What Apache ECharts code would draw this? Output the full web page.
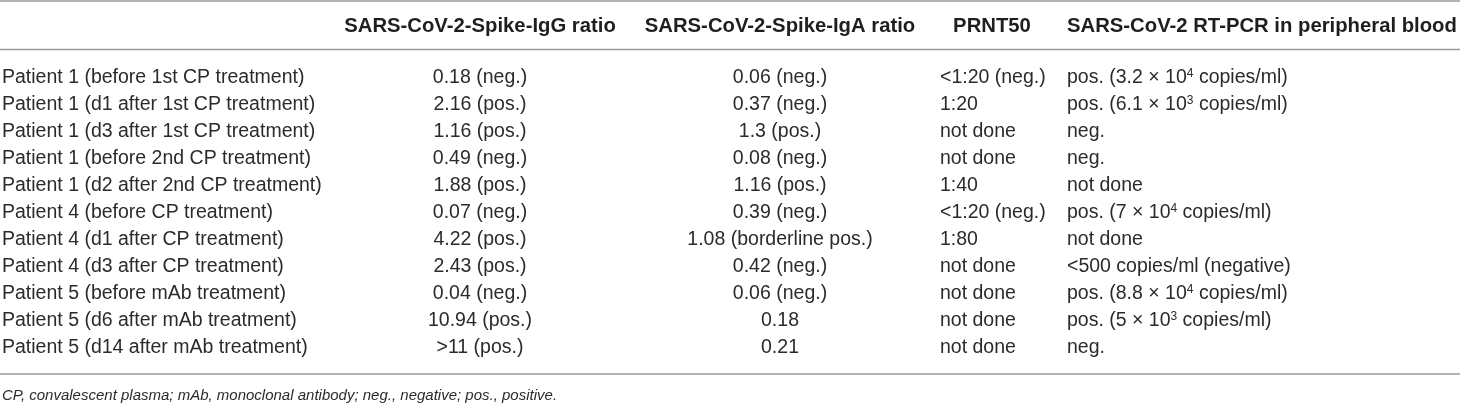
<!DOCTYPE html>
<html>
<head>
<meta charset="utf-8">
<script src="https://cdn.jsdelivr.net/npm/echarts@6/dist/echarts.min.js"></script>
<style>
  html, body { margin: 0; padding: 0; background: #fff; }
  #main { width: 1460px; height: 405px; }
</style>
</head>
<body>
<div id="main"></div>
<script>
// table content
var rowLabels = [
  'Patient 1 (before 1st CP treatment)',
  'Patient 1 (d1 after 1st CP treatment)',
  'Patient 1 (d3 after 1st CP treatment)',
  'Patient 1 (before 2nd CP treatment)',
  'Patient 1 (d2 after 2nd CP treatment)',
  'Patient 4 (before CP treatment)',
  'Patient 4 (d1 after CP treatment)',
  'Patient 4 (d3 after CP treatment)',
  'Patient 5 (before mAb treatment)',
  'Patient 5 (d6 after mAb treatment)',
  'Patient 5 (d14 after mAb treatment)'
];
var headers = [
  'SARS-CoV-2-Spike-IgG ratio',
  'SARS-CoV-2-Spike-IgA ratio',
  'PRNT50',
  'SARS-CoV-2 RT-PCR in peripheral blood'
];
var iggRatio = ['0.18 (neg.)', '2.16 (pos.)', '1.16 (pos.)', '0.49 (neg.)', '1.88 (pos.)', '0.07 (neg.)',
  '4.22 (pos.)', '2.43 (pos.)', '0.04 (neg.)', '10.94 (pos.)', '>11 (pos.)'];
var igaRatio = ['0.06 (neg.)', '0.37 (neg.)', '1.3 (pos.)', '0.08 (neg.)', '1.16 (pos.)', '0.39 (neg.)',
  '1.08 (borderline pos.)', '0.42 (neg.)', '0.06 (neg.)', '0.18', '0.21'];
var prnt50 = ['<1:20 (neg.)', '1:20', 'not done', 'not done', '1:40', '<1:20 (neg.)',
  '1:80', 'not done', 'not done', 'not done', 'not done'];
var rtPcr = ['pos. (3.2 × 10^4 copies/ml)', 'pos. (6.1 × 10^3 copies/ml)', 'neg.', 'neg.', 'not done',
  'pos. (7 × 10^4 copies/ml)', 'not done', '<500 copies/ml (negative)', 'pos. (8.8 × 10^4 copies/ml)',
  'pos. (5 × 10^3 copies/ml)', 'neg.'];
var footnote = 'CP, convalescent plasma; mAb, monoclonal antibody; neg., negative; pos., positive.';

var columns = [iggRatio, igaRatio, prnt50, rtPcr];

// layout
var W = 1460;
var colX = [480, 780, 940, 1067];
var colAlign = ['center', 'center', 'left', 'left'];
var headX = [480, 780, 992, 1067];
var headAlign = ['center', 'center', 'center', 'left'];
var FONT = '"Liberation Sans", Arial, Helvetica, sans-serif';
var textColor = '#2b2b2b';
var ruleColor = '#9a9a9a';

var cells = [];
columns.forEach(function (col, c) {
  col.forEach(function (v, r) {
    cells.push([c, r]);
  });
});

// "10^4" -> superscript
function toRich(s) {
  return s.replace(/\^(\d+)/g, '{sup|$1}');
}

var chartDom = document.getElementById('main');
var myChart = echarts.init(chartDom, null, { renderer: 'canvas' });
var option;

var graphics = [
  { type: 'line', shape: { x1: 0, y1: 1, x2: W, y2: 1 }, style: { stroke: ruleColor, lineWidth: 1.5 } },
  { type: 'line', shape: { x1: 0, y1: 49.5, x2: W, y2: 49.5 }, style: { stroke: ruleColor, lineWidth: 1.5 } },
  { type: 'line', shape: { x1: 0, y1: 374, x2: W, y2: 374 }, style: { stroke: ruleColor, lineWidth: 1.5 } },
  {
    type: 'text', left: 2, top: 388,
    style: { text: footnote, font: 'italic 15px ' + FONT, fill: textColor }
  }
];
headers.forEach(function (h, i) {
  graphics.push({
    type: 'text',
    x: headX[i], y: 26.5,
    style: {
      text: h, fill: '#1e1e1e',
      font: 'bold 20.3px ' + FONT,
      textAlign: headAlign[i], textVerticalAlign: 'middle'
    }
  });
});

option = {
  animation: false,
  backgroundColor: '#fff',
  grid: { left: 330, right: 10, top: 64, bottom: 44, outerBoundsMode: 'none' },
  xAxis: { type: 'value', min: 0, max: 3, show: false },
  yAxis: {
    type: 'category',
    inverse: true,
    data: rowLabels,
    axisLine: { show: false },
    axisTick: { show: false },
    splitLine: { show: false },
    axisLabel: {
      align: 'left',
      margin: 328,
      color: textColor,
      fontSize: 19.5,
      fontFamily: FONT
    }
  },
  graphic: graphics,
  series: [
    {
      type: 'custom',
      data: cells,
      renderItem: function (params, api) {
        var c = api.value(0);
        var r = api.value(1);
        var y = api.coord([0, r])[1];
        return {
          type: 'text',
          x: colX[c],
          y: y,
          style: {
            text: toRich(columns[c][r]),
            fill: textColor,
            fontSize: 19.5,
            fontFamily: FONT,
            align: colAlign[c],
            verticalAlign: 'middle',
            rich: {
              sup: { fontSize: 12, fontFamily: FONT, fill: textColor, verticalAlign: 'top', lineHeight: 12 }
            }
          }
        };
      }
    }
  ]
};

option && myChart.setOption(option);
</script>
</body>
</html>
